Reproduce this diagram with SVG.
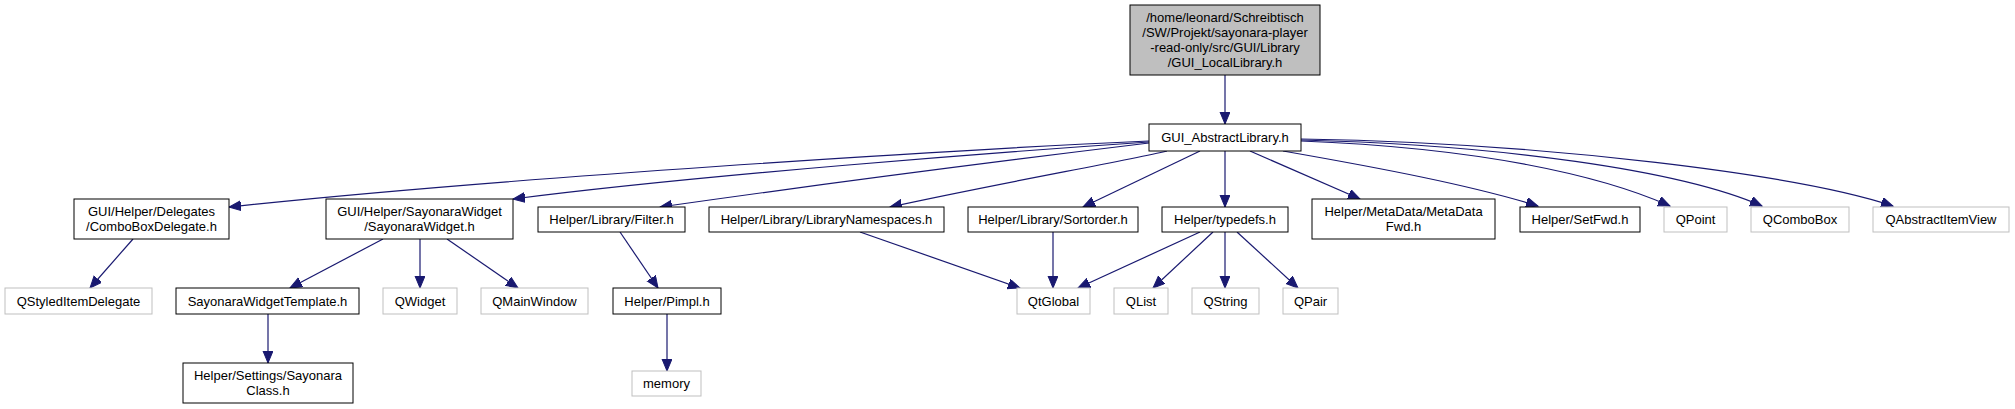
<svg xmlns="http://www.w3.org/2000/svg" width="2015" height="409" viewBox="0 0 2015 409">
<defs>
<marker id="ah" markerUnits="userSpaceOnUse" markerWidth="14" markerHeight="12" refX="12" refY="5" orient="auto">
<path d="M0,0 L12,5 L0,10 z" fill="#191970" stroke="#191970" stroke-width="1"/>
</marker>
</defs>
<style>
text{font-family:"Liberation Sans",Arial,Helvetica,sans-serif;font-size:13px;fill:#000;text-anchor:middle}
.n rect{fill:#fff;stroke:#000;stroke-width:1}
.x rect{fill:#fff;stroke:#bfbfbf;stroke-width:1}
.r rect{fill:#bfbfbf;stroke:#000;stroke-width:1}
#edges path{fill:none;stroke:#191970;stroke-width:1.2;marker-end:url(#ah)}
</style>
<rect x="0" y="0" width="2015" height="409" fill="#fff"/>
<g id="edges">
<path d="M1225,75 L1225,124"/>
<path d="M1149,141 C950,150 500,178 229,207"/>
<path d="M1149,142 C1000,152 700,175 513,199"/>
<path d="M1149,143 C1050,155 850,180 660,207"/>
<path d="M1167,151 C1120,162 1000,183 890,207"/>
<path d="M1200,151 L1083,207"/>
<path d="M1225,151 L1225,207"/>
<path d="M1250,151 L1360,199"/>
<path d="M1283,151 C1380,168 1470,185 1538,206"/>
<path d="M1301,141 C1480,148 1600,175 1670,206"/>
<path d="M1301,140 C1500,145 1680,170 1762,206"/>
<path d="M1301,139 C1550,143 1800,175 1893,206"/>
<path d="M133,239 L90,288"/>
<path d="M383,239 L290,288"/>
<path d="M420,239 L420,288"/>
<path d="M447,239 L518,288"/>
<path d="M268,314 L268,363"/>
<path d="M620,232 L658,288"/>
<path d="M667,314 L667,371"/>
<path d="M860,232 L1020,288"/>
<path d="M1053,232 L1053,288"/>
<path d="M1200,232 L1078,288"/>
<path d="M1213,232 L1153,288"/>
<path d="M1225,232 L1225,288"/>
<path d="M1237,232 L1298,288"/>
</g>
<g id="n_local" class="r"><rect x="1130" y="5" width="190" height="70"/>
<text x="1225" y="21.5">/home/leonard/Schreibtisch</text>
<text x="1225" y="36.5">/SW/Projekt/sayonara-player</text>
<text x="1225" y="51.5">-read-only/src/GUI/Library</text>
<text x="1225" y="66.5">/GUI_LocalLibrary.h</text></g>
<g id="n_abstract" class="n"><rect x="1149" y="124" width="152" height="27"/><text x="1225" y="142">GUI_AbstractLibrary.h</text></g>
<g id="n_combodel" class="n"><rect x="74" y="199" width="155" height="40"/><text x="151.5" y="215.5">GUI/Helper/Delegates</text><text x="151.5" y="230.5">/ComboBoxDelegate.h</text></g>
<g id="n_sayw" class="n"><rect x="326" y="199" width="187" height="40"/><text x="419.5" y="215.5">GUI/Helper/SayonaraWidget</text><text x="419.5" y="230.5">/SayonaraWidget.h</text></g>
<g id="n_filter" class="n"><rect x="538" y="207" width="147" height="25"/><text x="611.5" y="224">Helper/Library/Filter.h</text></g>
<g id="n_libns" class="n"><rect x="709" y="207" width="235" height="25"/><text x="826.5" y="224">Helper/Library/LibraryNamespaces.h</text></g>
<g id="n_sort" class="n"><rect x="968" y="207" width="170" height="25"/><text x="1053" y="224">Helper/Library/Sortorder.h</text></g>
<g id="n_typedefs" class="n"><rect x="1162" y="207" width="126" height="25"/><text x="1225" y="224">Helper/typedefs.h</text></g>
<g id="n_mdfwd" class="n"><rect x="1312" y="199" width="183" height="40"/><text x="1403.5" y="215.5">Helper/MetaData/MetaData</text><text x="1403.5" y="230.5">Fwd.h</text></g>
<g id="n_setfwd" class="n"><rect x="1520" y="207" width="120" height="25"/><text x="1580" y="224">Helper/SetFwd.h</text></g>
<g id="n_qpoint" class="x"><rect x="1664" y="207" width="63" height="25"/><text x="1695.5" y="224">QPoint</text></g>
<g id="n_qcombo" class="x"><rect x="1751" y="207" width="98" height="25"/><text x="1800" y="224">QComboBox</text></g>
<g id="n_qaiv" class="x"><rect x="1873" y="207" width="136" height="25"/><text x="1941" y="224">QAbstractItemView</text></g>
<g id="n_qsid" class="x"><rect x="5" y="288" width="147" height="26"/><text x="78.5" y="305.5">QStyledItemDelegate</text></g>
<g id="n_swt" class="n"><rect x="176" y="288" width="183" height="26"/><text x="267.5" y="305.5">SayonaraWidgetTemplate.h</text></g>
<g id="n_qwidget" class="x"><rect x="383" y="288" width="74" height="26"/><text x="420" y="305.5">QWidget</text></g>
<g id="n_qmain" class="x"><rect x="481" y="288" width="107" height="26"/><text x="534.5" y="305.5">QMainWindow</text></g>
<g id="n_pimpl" class="n"><rect x="613" y="288" width="108" height="26"/><text x="667" y="305.5">Helper/Pimpl.h</text></g>
<g id="n_qtglobal" class="x"><rect x="1017" y="288" width="73" height="26"/><text x="1053.5" y="305.5">QtGlobal</text></g>
<g id="n_qlist" class="x"><rect x="1114" y="288" width="54" height="26"/><text x="1141" y="305.5">QList</text></g>
<g id="n_qstring" class="x"><rect x="1192" y="288" width="67" height="26"/><text x="1225.5" y="305.5">QString</text></g>
<g id="n_qpair" class="x"><rect x="1283" y="288" width="55" height="26"/><text x="1310.5" y="305.5">QPair</text></g>
<g id="n_sayclass" class="n"><rect x="183" y="363" width="170" height="40"/><text x="268" y="379.5">Helper/Settings/Sayonara</text><text x="268" y="394.5">Class.h</text></g>
<g id="n_memory" class="x"><rect x="632" y="371" width="69" height="25"/><text x="666.5" y="388">memory</text></g>
</svg>
